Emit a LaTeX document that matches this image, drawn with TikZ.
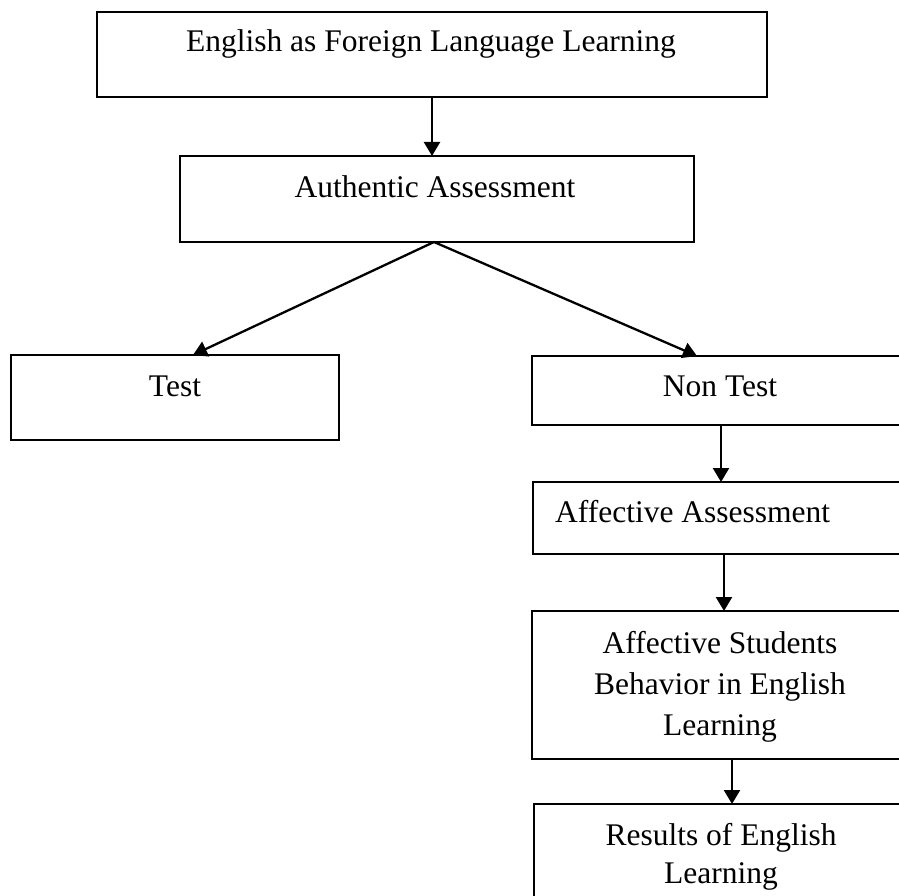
\documentclass[tikz,border=0pt]{standalone}
\usepackage{fontspec}
\setmainfont{Liberation Serif}
\usetikzlibrary{arrows.meta}
\begin{document}
\begin{tikzpicture}[x=1pt,y=-1pt,
  box/.style={draw, line width=2pt, inner sep=0pt, outer sep=0pt, anchor=north west},
  lbl/.style={inner sep=0pt, font=\fontsize{31.5}{41}\selectfont},
  conn/.style={line width=2.3pt, -{Triangle[length=14pt,width=16pt]}}
]
\useasboundingbox (0,0) rectangle (899,896);
\clip (0,0) rectangle (899,896);

% boxes (top-left corner, size)
\node[box, minimum width=670pt, minimum height=85pt] (efl) at (97,12) {};
\node[box, minimum width=514pt, minimum height=86pt] (auth) at (180,156) {};
\node[box, minimum width=328pt, minimum height=85pt] (test) at (11,355) {};
\node[box, minimum width=378pt, minimum height=69pt] (nontest) at (532,356) {};
\node[box, minimum width=382pt, minimum height=72pt] (affass) at (533,482) {};
\node[box, minimum width=400pt, minimum height=148pt] (affbeh) at (532,611) {};
\node[box, minimum width=396pt, minimum height=120pt] (result) at (534,804) {};

% texts
\node[lbl, anchor=base] (tefl) at (431,52) {English as Foreign Language Learning};
\node[lbl, anchor=base] (tauth) at (435,197) {Authentic Assessment};
\node[lbl, anchor=base] (ttest) at (175,396) {Test};
\node[lbl, anchor=base] (tnontest) at (720,396) {Non Test};
\node[lbl, anchor=base west] (taffass) at (555,522) {Affective Assessment};
\node[lbl, anchor=north, align=center] (taffbeh) at (720,631) {Affective Students\\Behavior in English\\Learning};
\node[lbl, anchor=north, align=center, font=\fontsize{31.5}{38}\selectfont] (tresult) at (721,823) {Results of English\\Learning};

% connectors
\coordinate (split) at (434,242);
\coordinate (testin) at (193,355);
\coordinate (nontestin) at (697,356);
\draw[conn] (efl.south) -- (efl.south |- auth.north);
\draw[conn] (split) -- (testin);
\draw[conn] (split) -- (nontestin);
\draw[conn] (nontest.south) -- (nontest.south |- affass.north);
\draw[conn] (affass.south) -- (affass.south |- affbeh.north);
\draw[conn] (affbeh.south) -- (affbeh.south |- result.north);
\end{tikzpicture}
\end{document}
